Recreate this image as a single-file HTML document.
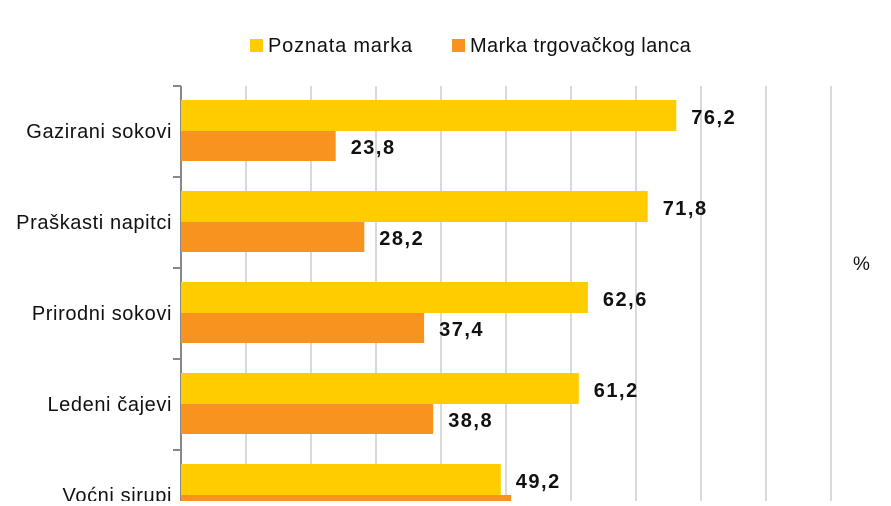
<!DOCTYPE html>
<html><head><meta charset="utf-8"><style>
body{margin:0;background:#fff;width:891px;height:501px;overflow:hidden;font-family:"Liberation Sans",sans-serif}
</style></head><body>
<svg id="c" width="891" height="501" style="font-family:'Liberation Sans',sans-serif"></svg>
<script>
const categories=["Gazirani sokovi","Praškasti napitci","Prirodni sokovi","Ledeni čajevi","Voćni sirupi"];
const brandValues=[76.2,71.8,62.6,61.2,49.2];
const storeValues=[23.8,28.2,37.4,38.8,50.8];
const brandLabels=["76,2","71,8","62,6","61,2","49,2"];
const storeLabels=["23,8","28,2","37,4","38,8","50,8"];
const gridTicks=[10,20,30,40,50,60,70,80,90,100];
const svg=document.getElementById('c');
const NS='http://www.w3.org/2000/svg';
const x0=181,pxPer=6.5,top0=86,groupH=91;
const X=v=>x0+v*pxPer;
function mk(t,a){const e=document.createElementNS(NS,t);for(const k in a)e.setAttribute(k,a[k]);svg.appendChild(e);return e;}
gridTicks.forEach(v=>{const l=mk('line',{x1:X(v),x2:X(v),y1:top0,y2:501,stroke:'#d9d9d9','stroke-width':2});

});
const ax=mk('line',{x1:x0,x2:x0,y1:top0,y2:501,stroke:'#888','stroke-width':2});


categories.forEach((c,i)=>{
 const gt=top0+i*groupH;
 const tk=mk('line',{x1:x0-8,x2:x0,y1:gt,y2:gt,stroke:'#888','stroke-width':2});
 
 
 const b1=mk('rect',{x:x0,y:gt+14,width:X(brandValues[i])-x0,height:31,fill:'#ffcc00'});
 
 
 const b2=mk('rect',{x:x0,y:gt+45,width:X(storeValues[i])-x0,height:30,fill:'#f7931e'});
 
 
 const t1=mk('text',{x:X(brandValues[i])+15,y:gt+38,'font-size':20,'font-weight':'bold','letter-spacing':1.5,fill:'#111'});t1.textContent=brandLabels[i];
 
 
 const t2=mk('text',{x:X(storeValues[i])+15,y:gt+68,'font-size':20,'font-weight':'bold','letter-spacing':1.5,fill:'#111'});t2.textContent=storeLabels[i];
 
 
 const cl=mk('text',{x:172,y:gt+52,'font-size':20,'letter-spacing':0.6,fill:'#111','text-anchor':'end'});cl.textContent=c;
 
 
});
const pct=mk('text',{x:853,y:270,'font-size':19,fill:'#111'});pct.textContent='%';


const lg1=mk('rect',{x:250,y:39,width:13,height:13,fill:'#ffcc00'});


const lt1=mk('text',{x:268,y:52,'font-size':20,'letter-spacing':0.8,fill:'#111'});lt1.textContent='Poznata marka';


const lg2=mk('rect',{x:452,y:39,width:13,height:13,fill:'#f7931e'});


const lt2=mk('text',{x:470,y:52,'font-size':20,'letter-spacing':0.4,fill:'#111'});lt2.textContent='Marka trgovačkog lanca';


</script>
</body></html>
